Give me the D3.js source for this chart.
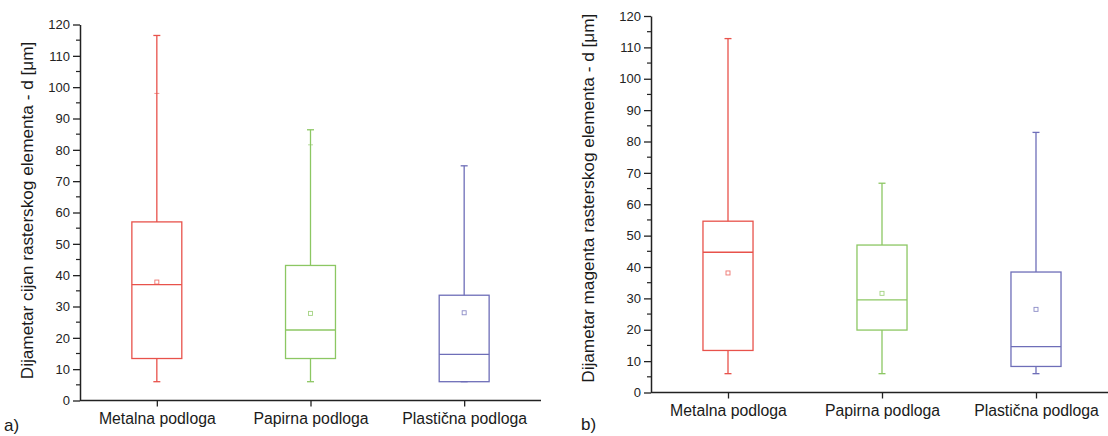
<!DOCTYPE html>
<html><head><meta charset="utf-8">
<script src="https://cdn.jsdelivr.net/npm/d3@7"></script>
<style>
html,body{margin:0;padding:0;background:#fff;}
svg{display:block;font-family:"Liberation Sans",Arial,sans-serif;}
</style></head>
<body>
<svg id="c" width="1108" height="436"></svg>
<script>
const categories = ["Metalna podloga", "Papirna podloga", "Plastična podloga"];
const colors = ["#e8524b", "#8cc763", "#6e6eb8"];
const yTicks = [0,10,20,30,40,50,60,70,80,90,100,110,120];

// a) cijan
const cyanMin    = [6, 6, 6];
const cyanQ1     = [13.4, 13.4, 6];
const cyanMedian = [37, 22.5, 14.7];
const cyanQ3     = [57, 43.1, 33.6];
const cyanMax    = [116.5, 86.4, 74.9];
const cyanMean   = [37.8, 27.8, 28];
const cyanP99    = [98, 81.6, null];

// b) magenta
const magMin    = [6, 6, 6];
const magQ1     = [13.4, 19.9, 8.3];
const magMedian = [44.7, 29.5, 14.6];
const magQ3     = [54.6, 47, 38.4];
const magMax    = [112.8, 66.7, 82.9];
const magMean   = [38.1, 31.6, 26.5];
const magP99    = [null, null, null];

const svg = d3.select("#c");

function panel(cfg) {
  const g = svg.append("g");
  const y = d3.scaleLinear().domain([0,120]).range([cfg.y0, cfg.y1]);
  const x = d3.scalePoint().domain(categories).range([cfg.x0, cfg.x1]).padding(0.5);
  const bw = x.step() * 0.325;

  const data = categories.map((c,i) => ({
    c, i, min: cfg.min[i], q1: cfg.q1[i], med: cfg.med[i], q3: cfg.q3[i],
    max: cfg.max[i], mean: cfg.mean[i], p99: cfg.p99[i]
  }));

  const b = g.selectAll("g.box").data(data).join("g").attr("class","box");
  const lw = 1.3;
  b.append("line").attr("x1", d=>x(d.c)).attr("x2", d=>x(d.c))
    .attr("y1", d=>y(d.q3)).attr("y2", d=>y(d.max))
    .attr("stroke", d=>colors[d.i]).attr("stroke-width", lw);
  b.append("line").attr("x1", d=>x(d.c)).attr("x2", d=>x(d.c))
    .attr("y1", d=>y(d.q1)).attr("y2", d=>y(d.min))
    .attr("stroke", d=>colors[d.i]).attr("stroke-width", lw);
  b.append("line").attr("x1", d=>x(d.c)-3.5).attr("x2", d=>x(d.c)+3.5)
    .attr("y1", d=>y(d.max)).attr("y2", d=>y(d.max))
    .attr("stroke", d=>colors[d.i]).attr("stroke-width", lw);
  b.append("line").attr("x1", d=>x(d.c)-3.5).attr("x2", d=>x(d.c)+3.5)
    .attr("y1", d=>y(d.min)).attr("y2", d=>y(d.min))
    .attr("stroke", d=>colors[d.i]).attr("stroke-width", lw);
  b.filter(d=>d.p99!=null).append("line")
    .attr("x1", d=>x(d.c)-2.5).attr("x2", d=>x(d.c)+2.5)
    .attr("y1", d=>y(d.p99)).attr("y2", d=>y(d.p99))
    .attr("stroke", d=>colors[d.i]).attr("stroke-width", 1).attr("opacity",0.6);
  b.append("rect").attr("x", d=>x(d.c)-bw/2).attr("width", bw)
    .attr("y", d=>y(d.q3)).attr("height", d=>y(d.q1)-y(d.q3))
    .attr("fill","none").attr("stroke", d=>colors[d.i]).attr("stroke-width", lw);
  b.append("line").attr("x1", d=>x(d.c)-bw/2).attr("x2", d=>x(d.c)+bw/2)
    .attr("y1", d=>y(d.med)).attr("y2", d=>y(d.med))
    .attr("stroke", d=>colors[d.i]).attr("stroke-width", lw);
  b.append("rect").attr("x", d=>x(d.c)-2).attr("y", d=>y(d.mean)-2)
    .attr("width",4).attr("height",4).attr("fill","none")
    .attr("stroke", d=>colors[d.i]).attr("stroke-width",0.9).attr("opacity",0.8);

  const ya = d3.axisLeft(y).tickValues(yTicks).tickSize(7).tickSizeOuter(0).tickPadding(3);
  const yg = g.append("g").attr("transform",`translate(${cfg.x0},0)`).call(ya);
  yg.select(".domain").attr("stroke","#222").attr("stroke-width",1.5);
  yg.selectAll(".tick line").attr("stroke","#222").attr("stroke-width",1.3);
  yg.selectAll(".tick text").attr("fill","#222").attr("font-size",13)
    .attr("font-family","Liberation Sans, Arial, sans-serif");
  const minor = d3.range(5,120,10);
  g.append("g").selectAll("line").data(minor).join("line")
    .attr("x1", cfg.x0-4).attr("x2", cfg.x0).attr("y1", d=>y(d)).attr("y2", d=>y(d))
    .attr("stroke","#222").attr("stroke-width",1.2);

  const xa = d3.axisBottom(x).tickSize(6).tickSizeOuter(0).tickPadding(6);
  const xg = g.append("g").attr("transform",`translate(0,${cfg.y0})`).call(xa);
  xg.select(".domain").attr("stroke","#222").attr("stroke-width",1.5)
    .attr("d", `M${cfg.x0},0H${cfg.xEnd}`);
  xg.selectAll(".tick line").attr("stroke","#222").attr("stroke-width",1.3);
  xg.selectAll(".tick text").attr("fill","#1a1a1a").attr("font-size",15.8)
    .attr("font-family","Liberation Sans, Arial, sans-serif");

  g.append("text").attr("transform",`translate(${cfg.tx},${(cfg.y0+cfg.y1)/2+cfg.tdy}) rotate(-90)`)
    .attr("text-anchor","middle").attr("font-size",17.2).attr("fill","#1a1a1a")
    .text(cfg.title);
  g.append("text").attr("x",cfg.lx).attr("y",cfg.ly).attr("font-size",17)
    .attr("fill","#1a1a1a").text(cfg.label);
}

panel({x0:80, x1:541, xEnd:541, y0:400.5, y1:24.5,
  min:cyanMin, q1:cyanQ1, med:cyanMedian, q3:cyanQ3, max:cyanMax, mean:cyanMean, p99:cyanP99,
  title:"Dijametar cijan rasterskog elementa - d [μm]", tx:33, tdy:-2, label:"a)", lx:4, ly:431});
panel({x0:651, x1:1113, xEnd:1108, y0:392.5, y1:16,
  min:magMin, q1:magQ1, med:magMedian, q3:magQ3, max:magMax, mean:magMean, p99:magP99,
  title:"Dijametar magenta rasterskog elementa - d [μm]", tx:594, tdy:-6, label:"b)", lx:581, ly:430});
</script>
</body></html>
